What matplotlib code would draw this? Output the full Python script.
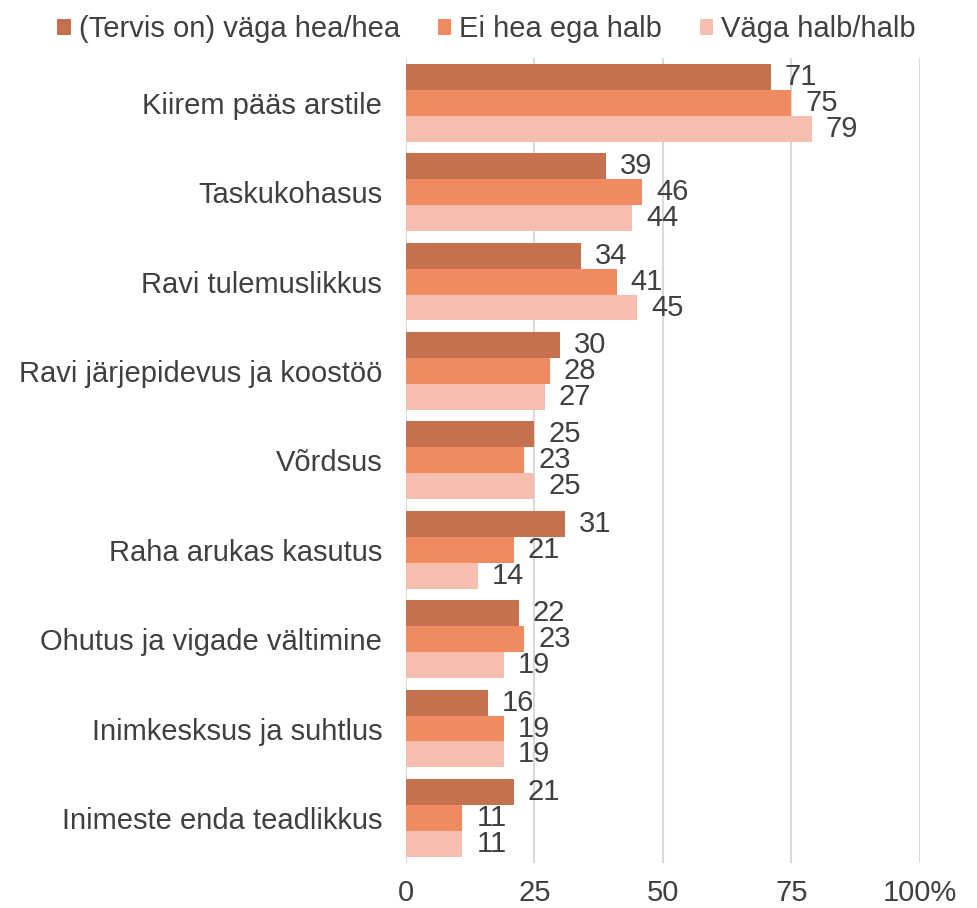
import matplotlib
matplotlib.use("Agg")
import matplotlib.pyplot as plt
import numpy as np

plt.rcParams["font.family"] = ["Liberation Sans", "DejaVu Sans"]

categories = [
    "Kiirem pääs arstile",
    "Taskukohasus",
    "Ravi tulemuslikkus",
    "Ravi järjepidevus ja koostöö",
    "Võrdsus",
    "Raha arukas kasutus",
    "Ohutus ja vigade vältimine",
    "Inimkesksus ja suhtlus",
    "Inimeste enda teadlikkus",
]
series_names = ["(Tervis on) väga hea/hea", "Ei hea ega halb", "Väga halb/halb"]
good = [71, 39, 34, 30, 25, 31, 22, 16, 21]
neutral = [75, 46, 41, 28, 23, 21, 23, 19, 11]
bad = [79, 44, 45, 27, 25, 14, 19, 19, 11]
colors = ["#C5704E", "#F08A60", "#F6BEAE"]
xticks = [0, 25, 50, 75, 100]
xtick_labels = ["0", "25", "50", "75", "100%"]

TEXT = "#404040"
FS = 21

fig = plt.figure(figsize=(9.77, 9.08), dpi=100)
ax = fig.add_axes([0.4155, 0.05, 0.526, 0.886])

y = np.arange(len(categories))
h = 0.29
for i, (vals, col, name) in enumerate(zip([good, neutral, bad], colors, series_names)):
    pos = y + (i - 1) * h
    ax.barh(pos, vals, height=h, color=col, label=name, zorder=3)
    for p, v in zip(pos, vals):
        ax.annotate(str(v), (v, p), xytext=(10, 0), textcoords="offset points",
                    va="center", ha="left", fontsize=FS, color=TEXT)

ax.set_ylim(len(categories) - 0.5, -0.5)
ax.set_xlim(0, 100)
ax.set_xticks(xticks)
ax.set_xticklabels(xtick_labels, fontsize=FS, color=TEXT)
ax.set_yticks(y)
ax.set_yticklabels(categories, fontsize=FS, color=TEXT)
ax.tick_params(length=0, pad=17)
ax.tick_params(axis="x", pad=12)
ax.grid(axis="x", color="#D9D9D9", linewidth=1.5, zorder=0)
for s in ax.spines.values():
    s.set_visible(False)

fig.legend(loc="upper center", bbox_to_anchor=(0.498, 1.012), ncol=3, frameon=False,
           fontsize=FS, handlelength=0.45, handleheight=0.45, handletextpad=0.28,
           columnspacing=1.3, labelcolor=TEXT)

fig.savefig("out.png", dpi=100)
